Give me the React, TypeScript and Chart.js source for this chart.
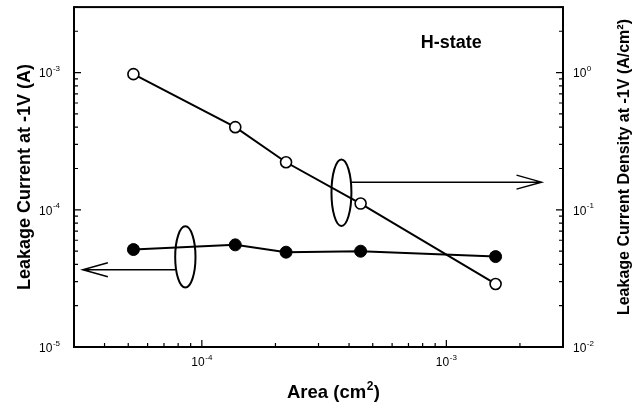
import React, { useEffect, useRef } from 'react';
import { Chart, registerables } from 'chart.js';

Chart.register(...registerables);

// ---- data ----
const areaCm2 = [5.25e-5, 1.37e-4, 2.21e-4, 4.46e-4, 1.59e-3];
const leakageCurrentA = [5.13e-5, 5.55e-5, 4.91e-5, 4.99e-5, 4.56e-5];
const currentDensityAcm2 = [0.974, 0.4, 0.222, 0.111, 0.0288];

// ---- ticks ----
const xTickValues = [3e-5, 4e-5, 5e-5, 6e-5, 7e-5, 8e-5, 9e-5, 1e-4, 2e-4, 3e-4, 4e-4, 5e-4, 6e-4, 7e-4, 8e-4, 9e-4, 1e-3, 2e-3, 3e-3];
const xDecadeTicks = [1e-4, 1e-3];
const xDecadeExponents = ['-4', '-3'];

const yLeftTickValues = [1e-5, 2e-5, 3e-5, 4e-5, 5e-5, 6e-5, 7e-5, 8e-5, 9e-5, 1e-4, 2e-4, 3e-4, 4e-4, 5e-4, 6e-4, 7e-4, 8e-4, 9e-4, 1e-3, 2e-3, 3e-3];
const yLeftDecadeTicks = [1e-5, 1e-4, 1e-3];
const yLeftDecadeExponents = ['-5', '-4', '-3'];

const yRightTickValues = [1e-2, 2e-2, 3e-2, 4e-2, 5e-2, 6e-2, 7e-2, 8e-2, 9e-2, 1e-1, 2e-1, 3e-1, 4e-1, 5e-1, 6e-1, 7e-1, 8e-1, 9e-1, 1, 2, 3];
const yRightDecadeTicks = [1e-2, 1e-1, 1];
const yRightDecadeExponents = ['-2', '-1', '0'];

const TICK_BASE = '10';

// ---- annotations (in data coordinates) ----
const leftMarker = {
  ellipse: { xMin: 7.78e-5, xMax: 9.42e-5, yMin: 2.71e-5, yMax: 7.57e-5 },
  arrow: { y: 3.66e-5, xFrom: 7.78e-5, xTo: 3.26e-5 },
};
const rightMarker = {
  ellipse: { xMin: 3.39e-4, xMax: 4.09e-4, yMin: 0.0762, yMax: 0.233 },
  arrow: { y: 0.159, xFrom: 4.09e-4, xTo: 2.45e-3 },
};
const stateLabel = { text: 'H-state', x: 7.85e-4, y: 1.51e-3 };

const FONT = "'Liberation Sans', Arial, Helvetica, sans-serif";
const BASE_FONT = `12px ${FONT}`;
const EXP_FONT = `8px ${FONT}`;

const isDec = (v: number, decs: number[]) => decs.some((d) => Math.abs(d - v) / d < 1e-6);

const decorPlugin = {
  id: 'decor',
  afterDraw(chart: any) {
    const { ctx, chartArea: ca, scales } = chart;
    const x = scales.x;
    const y = scales.y;
    const y2 = scales.y2;
    ctx.save();
    ctx.strokeStyle = '#000';
    ctx.fillStyle = '#000';

    // frame
    ctx.lineWidth = 2;
    ctx.strokeRect(ca.left, ca.top, ca.right - ca.left, ca.bottom - ca.top);

    // tick marks (inside)
    ctx.lineWidth = 1.2;
    ctx.beginPath();
    x.ticks.forEach((t: any) => {
      const px = x.getPixelForValue(t.value);
      const len = isDec(t.value, xDecadeTicks) ? 7 : 4;
      ctx.moveTo(px, ca.bottom);
      ctx.lineTo(px, ca.bottom - len);
    });
    y.ticks.forEach((t: any) => {
      const py = y.getPixelForValue(t.value);
      const len = isDec(t.value, yLeftDecadeTicks) ? 7 : 4;
      ctx.moveTo(ca.left, py);
      ctx.lineTo(ca.left + len, py);
    });
    y2.ticks.forEach((t: any) => {
      const py = y2.getPixelForValue(t.value);
      const len = isDec(t.value, yRightDecadeTicks) ? 7 : 4;
      ctx.moveTo(ca.right, py);
      ctx.lineTo(ca.right - len, py);
    });
    ctx.stroke();

    // tick labels: 10 with raised exponent
    const drawPow = (exp: string, cx: number, cy: number, align: 'left' | 'right' | 'center') => {
      ctx.font = BASE_FONT;
      const wb = ctx.measureText(TICK_BASE).width;
      ctx.font = EXP_FONT;
      const we = ctx.measureText(exp).width;
      const total = wb + we + 0.5;
      let start = cx;
      if (align === 'right') start = cx - total;
      else if (align === 'center') start = cx - total / 2;
      ctx.textAlign = 'left';
      ctx.textBaseline = 'middle';
      ctx.font = BASE_FONT;
      ctx.fillText(TICK_BASE, start, cy);
      ctx.font = EXP_FONT;
      ctx.fillText(exp, start + wb + 0.5, cy - 5);
    };
    xDecadeTicks.forEach((v, i) => drawPow(xDecadeExponents[i], x.getPixelForValue(v), ca.bottom + 15.5, 'center'));
    yLeftDecadeTicks.forEach((v, i) => drawPow(yLeftDecadeExponents[i], ca.left - 14, y.getPixelForValue(v) + 1.5, 'right'));
    yRightDecadeTicks.forEach((v, i) => drawPow(yRightDecadeExponents[i], ca.right + 10, y2.getPixelForValue(v) + 1.5, 'left'));

    // markers
    const drawMarker = (m: any, ys: any, dir: number) => {
      const x0 = x.getPixelForValue(m.ellipse.xMin);
      const x1 = x.getPixelForValue(m.ellipse.xMax);
      const yTop = ys.getPixelForValue(m.ellipse.yMax);
      const yBot = ys.getPixelForValue(m.ellipse.yMin);
      ctx.lineWidth = 2;
      ctx.beginPath();
      ctx.ellipse((x0 + x1) / 2, (yTop + yBot) / 2, (x1 - x0) / 2, (yBot - yTop) / 2, 0, 0, Math.PI * 2);
      ctx.stroke();
      const ay = ys.getPixelForValue(m.arrow.y);
      const ax0 = x.getPixelForValue(m.arrow.xFrom);
      const ax1 = x.getPixelForValue(m.arrow.xTo);
      ctx.lineWidth = 1.5;
      ctx.beginPath();
      ctx.moveTo(ax0, ay);
      ctx.lineTo(ax1, ay);
      ctx.moveTo(ax1 - dir * 25, ay - 7);
      ctx.lineTo(ax1, ay);
      ctx.lineTo(ax1 - dir * 25, ay + 7);
      ctx.stroke();
    };
    drawMarker(leftMarker, y, -1);
    drawMarker(rightMarker, y2, 1);

    // state label
    ctx.font = `bold 18px ${FONT}`;
    ctx.textAlign = 'left';
    ctx.textBaseline = 'alphabetic';
    ctx.fillText(stateLabel.text, x.getPixelForValue(stateLabel.x), y.getPixelForValue(stateLabel.y));

    // x axis title: Area (cm^2)
    {
      const big = `bold 18.5px ${FONT}`;
      const small = `bold 12px ${FONT}`;
      ctx.font = big;
      const w1 = ctx.measureText('Area (cm').width;
      const w3 = ctx.measureText(')').width;
      ctx.font = small;
      const w2 = ctx.measureText('2').width;
      const total = w1 + w2 + w3 + 1;
      const cx = (ca.left + ca.right) / 2 + 15;
      const base = ca.bottom + 51;
      let sx = cx - total / 2;
      ctx.textAlign = 'left';
      ctx.textBaseline = 'alphabetic';
      ctx.font = big;
      ctx.fillText('Area (cm', sx, base);
      sx += w1 + 0.5;
      ctx.font = small;
      ctx.fillText('2', sx, base - 8);
      sx += w2 + 0.5;
      ctx.font = big;
      ctx.fillText(')', sx, base);
    }

    // right axis title (reads bottom to top)
    ctx.font = `bold 16px ${FONT}`;
    ctx.textAlign = 'center';
    ctx.textBaseline = 'middle';
    ctx.translate(y2.right - 10, (ca.top + ca.bottom) / 2 - 10);
    ctx.rotate(-Math.PI / 2);
    ctx.fillText('Leakage Current Density at -1V (A/cm²)', 0, 0);
    ctx.restore();
  },
};

export default function App() {
  const ref = useRef<HTMLCanvasElement>(null);
  useEffect(() => {
    document.body.style.margin = '0';
    const canvas = ref.current!;
    Chart.defaults.font.family = FONT;
    Chart.defaults.color = '#000';
    const chart = new Chart(canvas, {
      type: 'line',
      data: {
        datasets: [
          {
            label: 'Leakage current',
            data: areaCm2.map((a, i) => ({ x: a, y: leakageCurrentA[i] })),
            yAxisID: 'y',
            borderColor: '#000',
            borderWidth: 2,
            backgroundColor: '#000',
            pointBackgroundColor: '#000',
            pointBorderColor: '#000',
            pointRadius: 6,
            pointBorderWidth: 1,
            tension: 0,
          },
          {
            label: 'Leakage current density',
            data: areaCm2.map((a, i) => ({ x: a, y: currentDensityAcm2[i] })),
            yAxisID: 'y2',
            borderColor: '#000',
            borderWidth: 2,
            backgroundColor: '#fff',
            pointBackgroundColor: '#fff',
            pointBorderColor: '#000',
            pointRadius: 5.5,
            pointBorderWidth: 1.6,
            tension: 0,
          },
        ],
      },
      options: {
        animation: false,
        responsive: false,
        maintainAspectRatio: false,
        layout: { padding: { top: 4, left: 0, right: 0, bottom: 0 } },
        plugins: { legend: { display: false }, tooltip: { enabled: false } },
        scales: {
          x: {
            type: 'logarithmic',
            position: 'bottom',
            min: 3e-5,
            max: 3e-3,
            afterBuildTicks: (s: any) => {
              s.ticks = xTickValues.map((v) => ({ value: v }));
            },
            afterFit: (s: any) => {
              s.height = 59;
              s.paddingLeft = 0;
              s.paddingRight = 0;
            },
            grid: { display: false, drawTicks: false },
            border: { display: false },
            ticks: { display: false, autoSkip: false },
            title: { display: false, text: 'Area (cm²)' },
          },
          y: {
            type: 'logarithmic',
            position: 'left',
            min: 1e-5,
            max: 3e-3,
            afterBuildTicks: (s: any) => {
              s.ticks = yLeftTickValues.map((v) => ({ value: v }));
            },
            afterFit: (s: any) => {
              s.width = 74;
              s.paddingTop = 0;
              s.paddingBottom = 0;
            },
            grid: { display: false, drawTicks: false },
            border: { display: false },
            ticks: { display: false, autoSkip: false },
            title: {
              display: true,
              text: 'Leakage Current at -1V (A)',
              color: '#000',
              font: { size: 18, weight: 'bold' },
              padding: { top: 14, bottom: 0 },
            },
          },
          y2: {
            type: 'logarithmic',
            position: 'right',
            min: 1e-2,
            max: 3,
            afterBuildTicks: (s: any) => {
              s.ticks = yRightTickValues.map((v) => ({ value: v }));
            },
            afterFit: (s: any) => {
              s.width = 72;
              s.paddingTop = 0;
              s.paddingBottom = 0;
            },
            grid: { display: false, drawTicks: false },
            border: { display: false },
            ticks: { display: false, autoSkip: false },
          },
        },
      } as any,
      plugins: [decorPlugin],
    });
    return () => chart.destroy();
  }, []);
  return (
    <div style={{ width: 635, height: 406 }}>
      <canvas ref={ref} width={635} height={406} style={{ display: 'block' }} />
    </div>
  );
}
